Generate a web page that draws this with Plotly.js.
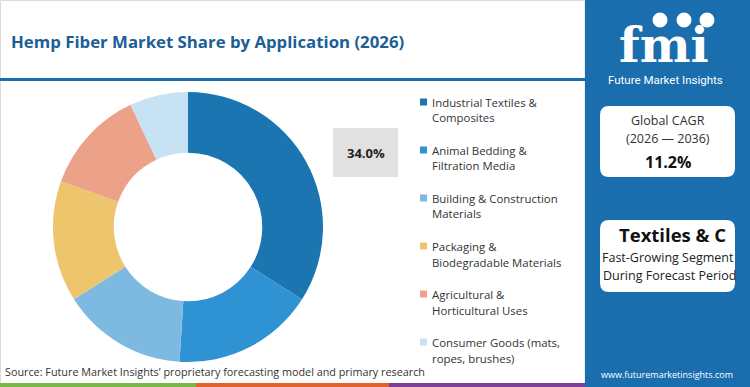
<!DOCTYPE html>
<html>
<head>
<meta charset="utf-8">
<script src="https://cdn.plot.ly/plotly-3.0.1.min.js"></script>
<style>
html,body{margin:0;padding:0;background:#fff;}
#chart{width:750px;height:387px;}
</style>
</head>
<body>
<div id="chart"></div>
<script>
// ---- data ----
const categories = [
  "Industrial Textiles &<br>Composites",
  "Animal Bedding &<br>Filtration Media",
  "Building & Construction<br>Materials",
  "Packaging &<br>Biodegradable Materials",
  "Agricultural &<br>Horticultural Uses",
  "Consumer Goods (mats,<br>ropes, brushes)"
];
const shares = [34.0, 17.0, 15.0, 14.5, 12.5, 7.0];
const sliceColors = ["#1b75b1", "#2f92d3", "#7db9e1", "#ecc56c", "#eca189", "#c6e2f4"];
const titleText = "Hemp Fiber Market Share by Application (2026)";
const cagrLabel = ["Global CAGR", "(2026 \u2014 2036)"];
const cagrValue = "11.2%";
const segmentName = "Textiles & C";
const segmentNote = ["Fast-Growing Segment", "During Forecast Period"];
const sourceText = "Source: Future Market Insights\u2019 proprietary forecasting model and primary research";

// ---- helpers (pixel -> paper) ----
const W = 750, H = 387;
const X = p => p / W;
const Y = p => 1 - p / H;
const FONT = "'Open Sans', 'DejaVu Sans', sans-serif";
const BLUE = "#1a6ead";

function ann(text, x, y, o) {
  o = o || {};
  return {
    text: text, x: X(x), y: Y(y), xref: "paper", yref: "paper", showarrow: false,
    xanchor: o.xanchor || "center", yanchor: o.yanchor || "middle", align: o.align || "center",
    font: {family: o.family || FONT, size: o.size || 12, color: o.color || "#333"}
  };
}
function rect(x0, y0, x1, y1, fill, line) {
  return {type: "rect", xref: "paper", yref: "paper", x0: X(x0), x1: X(x1), y0: Y(y1), y1: Y(y0),
    fillcolor: fill, line: line || {width: 0}, layer: "below"};
}
function roundRect(x0, y0, x1, y1, r, fill) {
  const p = `M ${X(x0 + r)},${Y(y0)} L ${X(x1 - r)},${Y(y0)} Q ${X(x1)},${Y(y0)} ${X(x1)},${Y(y0 + r)} ` +
    `L ${X(x1)},${Y(y1 - r)} Q ${X(x1)},${Y(y1)} ${X(x1 - r)},${Y(y1)} L ${X(x0 + r)},${Y(y1)} ` +
    `Q ${X(x0)},${Y(y1)} ${X(x0)},${Y(y1 - r)} L ${X(x0)},${Y(y0 + r)} Q ${X(x0)},${Y(y0)} ${X(x0 + r)},${Y(y0)} Z`;
  return {type: "path", xref: "paper", yref: "paper", path: p, fillcolor: fill, line: {width: 0}, layer: "below"};
}
function circle(cx, cy, r, fill) {
  return {type: "circle", xref: "paper", yref: "paper", x0: X(cx - r), x1: X(cx + r), y0: Y(cy + r), y1: Y(cy - r),
    fillcolor: fill, line: {width: 0}, layer: "below"};
}

// ---- trace ----
const trace = {
  type: "pie",
  labels: categories,
  values: shares,
  marker: {colors: sliceColors, line: {width: 0}},
  hole: 0.55,
  sort: false,
  direction: "clockwise",
  rotation: 0,
  textinfo: "none",
  hoverinfo: "label+percent",
  showlegend: false,
  domain: {x: [X(53), X(323)], y: [Y(362), Y(92)]}
};

// ---- shapes ----
const shapes = [
  rect(0.5, 0.5, 585, 386.5, "#ffffff", {color: "#dcdcdc", width: 1}),
  rect(0, 78, 585, 81, BLUE),
  rect(585, 0, 750, 387, BLUE),
  rect(0, 383, 196, 387, "#7ab648"),
  rect(196, 383, 389, 387, "#e0622c"),
  rect(389, 383, 585, 387, "#7d3f98"),
  rect(333, 128, 398, 177, "#e1e1e1"),
  roundRect(600, 106, 735, 177, 9, "#ffffff"),
  roundRect(600, 220, 735, 292, 9, "#ffffff"),
  circle(660, 20, 7.5, "#ffffff"),
  circle(684, 20, 7.5, "#ffffff"),
  circle(707, 20, 7.5, "#ffffff")
];

// ---- annotations ----
const annotations = [
  ann("<b>" + titleText + "</b>", 9, 42, {xanchor: "left", size: 16.8, color: "#1b5e96"}),
  ann("<b>" + shares[0].toFixed(1) + "%</b>", 365.5, 152.5, {size: 13, color: "#222"}),
  ann(sourceText, 3, 371, {xanchor: "left", size: 10.8, color: "#333"}),
  ann("<b>fmi</b>", 664, 45, {size: 48, color: "#ffffff", family: "'DejaVu Serif', serif"}),
  ann("Future Market Insights", 665, 80, {size: 11.5, color: "#ffffff", family: "Roboto, sans-serif"}),
  ann("www.futuremarketinsights.com", 667, 374, {size: 9, color: "#ffffff"}),
  ann(cagrLabel[0], 667.5, 120, {size: 12.5, color: "#333"}),
  ann(cagrLabel[1], 667.5, 138, {size: 12.5, color: "#333"}),
  ann("<b>" + cagrValue + "</b>", 667.5, 162, {size: 16, color: "#111"}),
  ann("<b>" + segmentName + "</b>", 617, 234, {xanchor: "left", size: 18.5, color: "#111"}),
  ann(segmentNote[0], 667.5, 257, {size: 12.5, color: "#222"}),
  ann(segmentNote[1], 669, 275, {size: 12.5, color: "#222"})
];

// legend built from the category / colour arrays
categories.forEach((c, i) => {
  const y1 = 102 + 48 * i;
  shapes.push(rect(420, y1 - 3.5, 427, y1 + 3.5, sliceColors[i]));
  c.split("<br>").forEach((line, j) => {
    annotations.push(ann(line, 430, y1 + 16 * j, {xanchor: "left", align: "left", size: 11.4, color: "#333"}));
  });
});

const layout = {
  width: W, height: H, autosize: false,
  margin: {l: 0, r: 0, t: 0, b: 0, pad: 0},
  paper_bgcolor: "#ffffff",
  plot_bgcolor: "#ffffff",
  font: {family: FONT},
  shapes: shapes,
  annotations: annotations
};

Plotly.newPlot("chart", [trace], layout, {displayModeBar: false, staticPlot: true});
</script>
</body>
</html>
